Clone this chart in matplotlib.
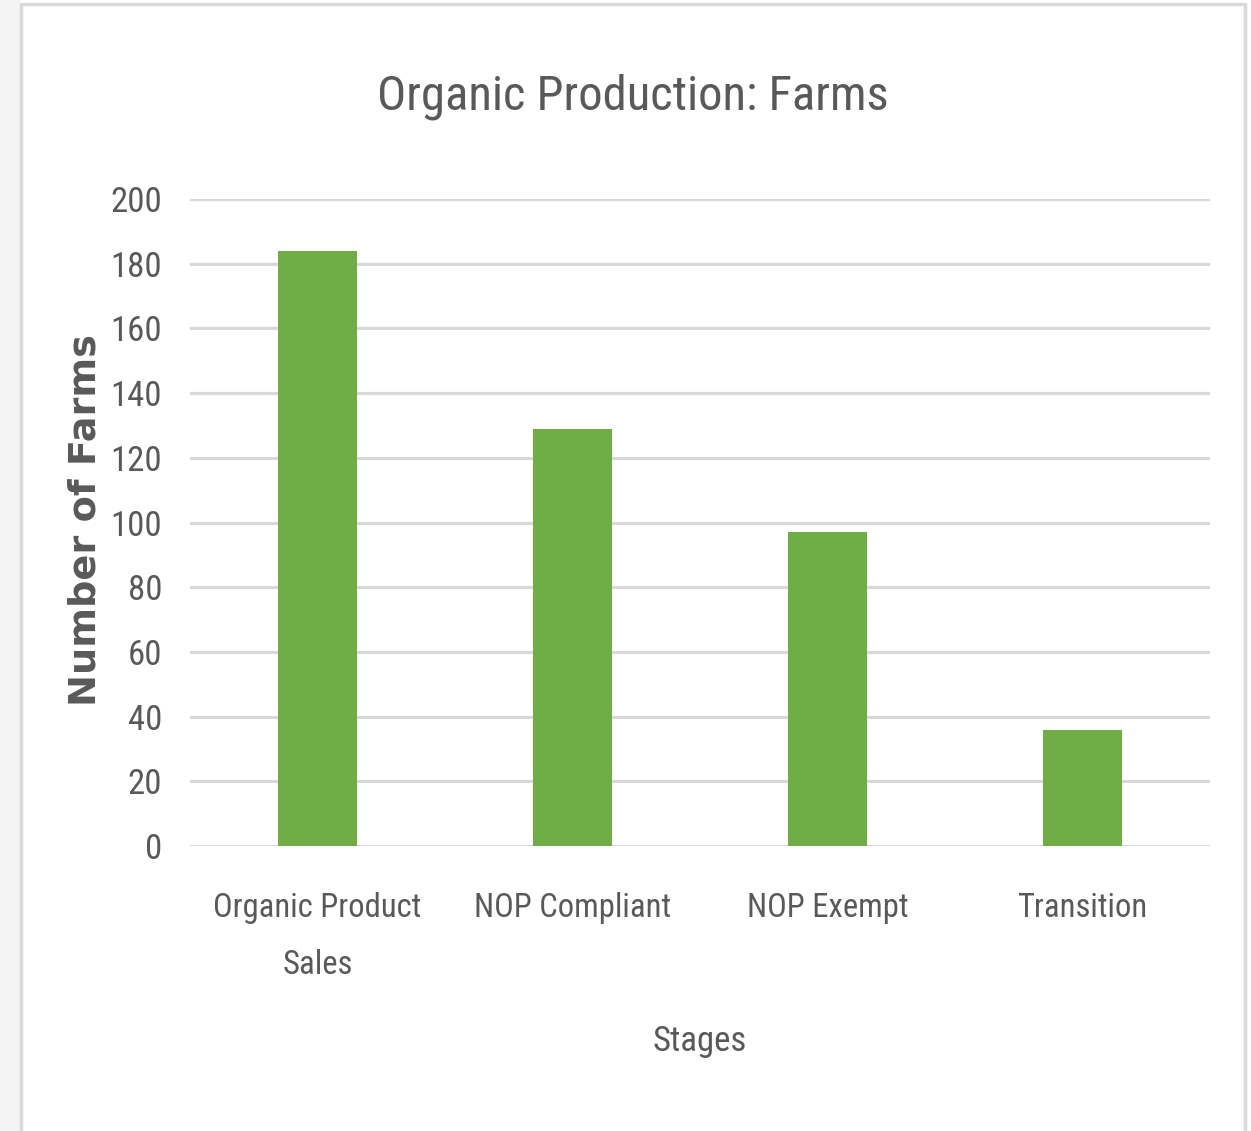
import matplotlib.pyplot as plt
from matplotlib.patches import Rectangle

stages = ["Organic Product\nSales", "NOP Compliant", "NOP Exempt", "Transition"]
farms = [184, 129, 97, 36]
yticks = [0, 20, 40, 60, 80, 100, 120, 140, 160, 180, 200]

W, H = 1251, 1131
fig = plt.figure(figsize=(W / 100, H / 100), dpi=100)
fig.patch.set_facecolor("white")

# left textured strip and light frame
fig.patches.append(Rectangle((0, 0), 20 / W, 1, transform=fig.transFigure,
                             facecolor="#f4f4f4", edgecolor="none", zorder=0))
fig.patches.append(Rectangle((21 / W, -0.01), (1245 - 21) / W, (1131 - 4) / H + 0.01,
                             transform=fig.transFigure, facecolor="none",
                             edgecolor="#d9d9d9", linewidth=2.5, zorder=1))

txt = "#595959"
narrow = ["Roboto Condensed", "Liberation Sans", "DejaVu Sans"]

ax = fig.add_axes([190 / W, (H - 846) / H, 1020 / W, 647 / H])
ax.bar(range(len(stages)), farms, width=0.31, color="#70ad47", zorder=3)
ax.set_xlim(-0.5, len(stages) - 0.5)
ax.set_ylim(0, 200)
ax.set_yticks(yticks)
ax.yaxis.grid(True, color="#d9d9d9", linewidth=2.3, zorder=0)
ax.set_axisbelow(True)
for s in ax.spines.values():
    s.set_visible(False)
ax.tick_params(length=0)
ax.tick_params(axis="y", pad=20, labelsize=25, labelcolor=txt)
ax.tick_params(axis="x", pad=33, labelsize=23.5, labelcolor=txt)
ax.set_xticks(range(len(stages)))
ax.set_xticklabels(stages, family=narrow, linespacing=2.0)
for lb in ax.get_yticklabels():
    lb.set_family(narrow)

ax.set_xlabel("Stages", family=narrow, fontsize=25, color=txt, labelpad=32)
fig.text(86 / W, 1 - 520 / H, "Number of Farms", rotation=90, ha="center", va="center",
         fontsize=27.5, fontweight="bold", color=txt, family="DejaVu Sans")
fig.text(633 / W, 1 - 97 / H, "Organic Production: Farms", ha="center", va="center",
         fontsize=35, color=txt, family=narrow)

fig.savefig("out.png", dpi=100)
plt.close()
